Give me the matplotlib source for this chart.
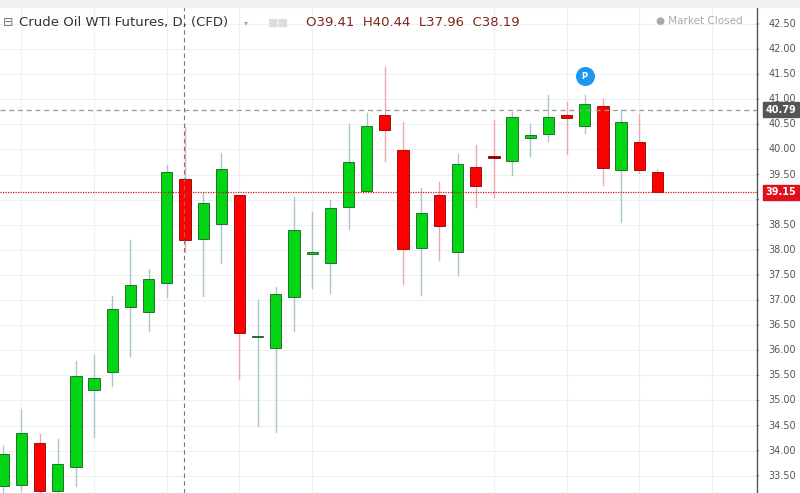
import matplotlib.pyplot as plt
import numpy as np

# daily OHLC
opens = [33.30, 33.32, 34.15, 33.20, 33.68, 35.21, 35.57, 36.86, 36.76, 37.34,
         39.41, 38.22, 38.52, 39.09, 36.26, 36.05, 37.06, 37.92, 37.74, 38.85,
         39.17, 40.69, 39.99, 38.04, 39.09, 37.96, 39.65, 39.86, 39.77, 40.23,
         40.31, 40.69, 40.47, 40.87, 39.59, 40.15, 39.55]
highs = [34.10, 34.83, 34.33, 34.23, 35.79, 35.91, 37.08, 38.20, 37.62, 39.69,
         40.44, 39.13, 39.93, 39.10, 37.00, 37.26, 39.05, 38.75, 38.99, 40.51,
         40.73, 41.64, 40.55, 39.23, 39.35, 39.91, 40.09, 40.59, 40.75, 40.51,
         41.09, 40.95, 41.09, 41.01, 40.79, 40.71, 39.59]
lows = [33.00, 33.20, 33.00, 33.00, 33.30, 34.27, 35.29, 35.89, 36.38, 37.06,
        37.96, 37.08, 37.74, 35.43, 34.49, 34.37, 36.38, 37.24, 37.14, 38.42,
        39.17, 39.78, 37.32, 37.10, 37.80, 37.50, 38.86, 39.05, 39.49, 39.87,
        40.17, 39.91, 40.33, 39.29, 38.56, 39.53, 39.15]
closes = [33.93, 34.35, 33.20, 33.73, 35.49, 35.45, 36.82, 37.30, 37.42, 39.55,
          38.19, 38.93, 39.61, 36.34, 36.27, 37.12, 38.40, 37.96, 38.83, 39.75,
          40.47, 40.39, 38.02, 38.73, 38.48, 39.71, 39.27, 39.84, 40.65, 40.29,
          40.65, 40.63, 40.91, 39.63, 40.55, 39.59, 39.15]
y_ticks = [33.5, 34.0, 34.5, 35.0, 35.5, 36.0, 36.5, 37.0, 37.5, 38.0,
           38.5, 39.0, 39.5, 40.0, 40.5, 41.0, 41.5, 42.0, 42.5]
v_grid = [1, 5, 9, 13, 17, 27, 31, 35, 39]
last_price = 39.15
prev_close = 40.79

fig = plt.figure(figsize=(8, 4.93), dpi=100)
ax = fig.add_axes([0, 0, 757 / 800, 1])
ax.set_xlim(-0.18, 41.48)
ax.set_ylim(33.157, 42.978)

for t in y_ticks:
    ax.axhline(t, color="#eef1f4", lw=0.8, zorder=0)
for g in v_grid:
    ax.axvline(g, color="#eef1f4", lw=0.8, zorder=0)

up_c, dn_c = "#00d614", "#ff0000"
for i, (o, h, l, c) in enumerate(zip(opens, highs, lows, closes)):
    up = c >= o
    wick = "#a9c6cc" if up else "#f0a8ae"
    ax.plot([i, i], [l, h], color=wick, lw=1, zorder=1)
    bottom, height = min(o, c), max(abs(c - o), 0.03)
    face = up_c if up else dn_c
    if abs(c - o) < 0.03:
        face = "#1f7a2a" if up else "#8b0000"
    ax.bar(i, height, bottom=bottom, width=0.62,
           color=face, edgecolor="#1a5e1a" if up else "#8b0000",
           lw=0.6, zorder=2)

ax.axhline(prev_close, color="#9a9a9a", ls=(0, (4, 3)), lw=0.9, zorder=3)
ax.axhline(last_price, color="#e0101a", ls=(0, (1, 1)), lw=0.9, zorder=3)
ax.axvline(9.95, color="#777777", ls=(0, (4, 3)), lw=0.8, zorder=3)

ax.scatter([32], [41.46], s=160, color="#1e96f0", zorder=4)
ax.text(32, 41.46, "P", color="white", fontsize=6, weight="bold",
        ha="center", va="center", zorder=5)

for s in ax.spines.values():
    s.set_visible(False)
ax.set_xticks([])
ax.set_yticks([])

# right price scale (the 39.00 label sits under the last-price box, as in the reference)
for t in y_ticks:
    if abs(t - last_price) > 0.2:
        ax.annotate(f"{t:.2f}", xy=(1, t), xycoords=("axes fraction", "data"),
                    xytext=(8, 0), textcoords="offset points",
                    fontsize=7, color="#555555", va="center", annotation_clip=False)
    ax.annotate("", xy=(1, t), xycoords=("axes fraction", "data"),
                xytext=(3, 0), textcoords="offset points",
                arrowprops=dict(arrowstyle="-", color="#555555", lw=0.8),
                annotation_clip=False)
ax.plot([1, 1], [0, 1], transform=ax.transAxes, color="#555555", lw=1,
        clip_on=False)
for val, bg in [(prev_close, "#555555"), (last_price, "#e0101a")]:
    ax.annotate(f"{val:.2f}", xy=(1, val), xycoords=("axes fraction", "data"),
                xytext=(6, 0), textcoords="offset points", fontsize=7,
                color="white", weight="bold", va="center",
                bbox=dict(boxstyle="square,pad=0.25", fc=bg, ec=bg),
                annotation_clip=False, zorder=6)

fig.patches.append(plt.Rectangle((0, 0.985), 1, 0.015, transform=fig.transFigure,
                                 color="#eef0f3", zorder=0))

fig.text(0.024, 0.955, "Crude Oil WTI Futures, D, (CFD)", fontsize=9.5,
         color="#333333", va="center")
fig.text(0.004, 0.955, "⊟", fontsize=9, color="#777777", va="center")
fig.text(0.305, 0.955, "▾", fontsize=6, color="#aaaaaa", va="center")
fig.text(0.335, 0.955, "■■", fontsize=8, color="#dddddd", va="center")
fig.text(0.383, 0.955, "O39.41  H40.44  L37.96  C38.19", fontsize=9.5,
         color="#7a2a1a", va="center")
fig.text(0.928, 0.958, "● Market Closed", fontsize=7.5, color="#aaaaaa",
         va="center", ha="right")

fig.savefig("out.png", dpi=100)
